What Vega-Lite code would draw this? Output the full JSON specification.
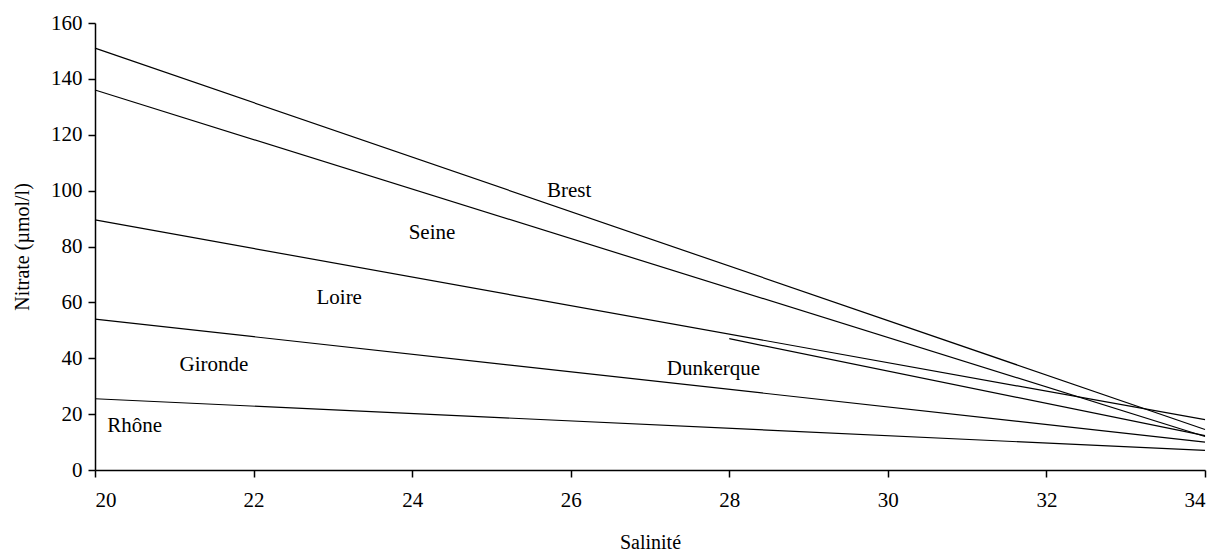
{
  "$schema": "https://vega.github.io/schema/vega-lite/v6.json",
  "width": 1110,
  "height": 447,
  "autosize": "none",
  "padding": {"left": 95, "top": 23, "right": 14, "bottom": 83},
  "background": "white",
  "config": {
    "view": {"stroke": null},
    "font": "Liberation Serif",
    "axis": {"grid": false, "domainColor": "#000", "tickColor": "#000", "domainWidth": 1.5, "tickWidth": 1.5, "tickSize": 7, "labelColor": "#000", "titleColor": "#000", "labelFont": "Liberation Serif", "titleFont": "Liberation Serif", "labelFontSize": 21, "titleFontSize": 20, "titleFontWeight": "normal"}
  },
  "datasets": {
    "lines": [
      {"site": "Brest", "s": 20, "n": 151},
      {"site": "Brest", "s": 34, "n": 14.5},
      {"site": "Seine", "s": 20, "n": 136},
      {"site": "Seine", "s": 34, "n": 12},
      {"site": "Loire", "s": 20, "n": 89.5},
      {"site": "Loire", "s": 34, "n": 18},
      {"site": "Gironde", "s": 20, "n": 54},
      {"site": "Gironde", "s": 34, "n": 10},
      {"site": "Rhône", "s": 20, "n": 25.5},
      {"site": "Rhône", "s": 34, "n": 7},
      {"site": "Dunkerque", "s": 28, "n": 47},
      {"site": "Dunkerque", "s": 34, "n": 12.3}
    ],
    "labels": [
      {"site": "Brest", "s": 25.98, "n": 100},
      {"site": "Seine", "s": 24.25, "n": 85},
      {"site": "Loire", "s": 23.08, "n": 61.6},
      {"site": "Dunkerque", "s": 27.8, "n": 36.2},
      {"site": "Gironde", "s": 21.5, "n": 37.6},
      {"site": "Rhône", "s": 20.5, "n": 15.8}
    ]
  },
  "layer": [
    {
      "data": {"name": "lines"},
      "mark": {"type": "line", "color": "#000", "strokeWidth": 1.2},
      "encoding": {
        "x": {"field": "s", "type": "quantitative", "scale": {"domain": [20, 34], "nice": false, "zero": false}, "axis": {"values": [20, 22, 24, 26, 28, 30, 32, 34], "format": "d", "title": "Salinité", "labelPadding": 12, "titlePadding": 22}},
        "y": {"field": "n", "type": "quantitative", "scale": {"domain": [0, 160], "nice": false}, "axis": {"values": [0, 20, 40, 60, 80, 100, 120, 140, 160], "format": "d", "title": "Nitrate (µmol/l)", "labelPadding": 6, "titlePadding": 18}},
        "detail": {"field": "site"}
      }
    },
    {
      "data": {"name": "labels"},
      "mark": {"type": "text", "font": "Liberation Serif", "fontSize": 21, "color": "#000", "align": "center", "baseline": "middle"},
      "encoding": {
        "x": {"field": "s", "type": "quantitative"},
        "y": {"field": "n", "type": "quantitative"},
        "text": {"field": "site"}
      }
    }
  ]
}
